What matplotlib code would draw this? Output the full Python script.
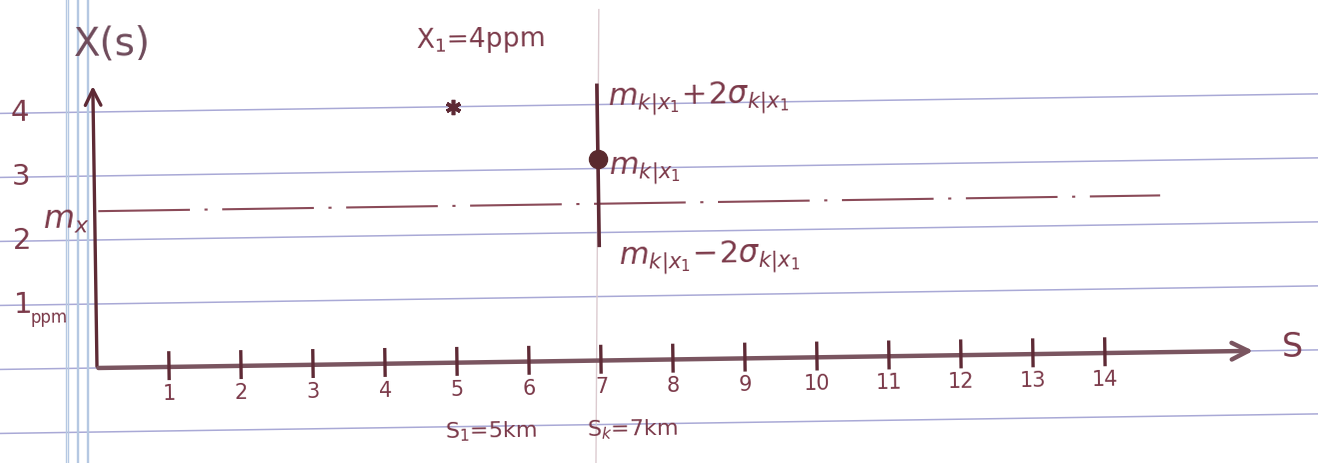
import matplotlib
matplotlib.use("Agg")
import matplotlib.pyplot as plt
from matplotlib.transforms import Affine2D

# values
s_ticks = [1, 2, 3, 4, 5, 6, 7, 8, 9, 10, 11, 12, 13, 14]
y_labels = ["1", "2", "3", "4"]
y_vals = [1, 2, 3, 4]
m_x = 2.45                 # prior mean (dash-dot line)
s_1, x_1 = 5, 4.0          # observation X1 = 4 ppm at s1 = 5 km
s_k = 7                    # prediction location
m_k = 3.15                 # conditional mean
m_k_hi = 4.3               # m + 2 sigma
m_k_lo = 1.8               # m - 2 sigma
rules = [-1, 0, 1, 2, 3, 4]

ink = "#5e2a35"
txt = "#7a3848"
paper_blue = "#a9a9d6"
margin_blue = "#b5c8e2"

fig = plt.figure(figsize=(13.18, 4.63), dpi=100)
ax = fig.add_axes([0, 0, 1, 1])
ax.set_xlim(-97 / 72, (1318 - 97) / 72)
ax.set_ylim((368 - 463) / 64, 368 / 64)
ax.axis("off")

# the photo is tilted a little: rotate the drawing about the origin
px, py = ax.transData.transform((0, 0))
ang = 0.85
tr = ax.transData + Affine2D().rotate_deg_around(px, py, ang)

# ruled paper
for r in rules:
    ax.plot([-3, 19], [r, r], color=paper_blue, lw=1.1, transform=tr, zorder=0)
for mx in [-0.43, -0.40, -0.28, -0.26, -0.14, -0.12]:
    ax.plot([mx, mx], [-3, 7], color=margin_blue, lw=1.0, zorder=0)
ax.plot([6.93, 6.97], [-1.5, 5.6], color="#dccbd0", lw=1, zorder=0)

# axes with arrows
ax.annotate("", xy=(0, 4.45), xytext=(0, -0.02), xycoords=tr, textcoords=tr,
            arrowprops=dict(arrowstyle="->", color=ink, lw=2.4, mutation_scale=28))
ax.annotate("", xy=(16.1, 0), xytext=(-0.02, 0), xycoords=tr, textcoords=tr,
            arrowprops=dict(arrowstyle="->", color="#7a5560", lw=3.2, mutation_scale=30))
for s in s_ticks:
    ax.plot([s, s], [-0.18, 0.22], color=ink, lw=2.4, transform=tr, zorder=3)
    ax.text(s, -0.42, str(s), color=txt, fontsize=15, ha="center", va="center",
            transform=tr, rotation=ang)

# y labels
for lab, v in zip(y_labels, y_vals):
    ax.text(-1.02, v, lab, color=txt, fontsize=21, ha="center", va="center",
            transform=tr, rotation=ang)
ax.text(-0.66, 0.8, "ppm", color=txt, fontsize=12, ha="center", va="center",
        transform=tr, rotation=ang)
ax.text(0.28, 5.05, "X(s)", color="#6e4a5a", fontsize=28, ha="center", va="center",
        transform=tr, rotation=ang)
ax.text(16.6, 0.05, "S", color=txt, fontsize=24, ha="center", va="center",
        transform=tr, rotation=ang)

# prior mean line
ax.plot([0.05, 14.8], [m_x, m_x], color="#8a4a58", lw=1.5,
        linestyle=(0, (44, 7, 1.5, 7)), transform=tr, zorder=2)
ax.text(-0.4, m_x - 0.14, r"$m_x$", color=txt, fontsize=23, ha="center", va="center",
        transform=tr, rotation=ang)

# observation
ax.plot([s_1], [x_1], marker=(6, 2, 0), markersize=11, mew=2.6, color=ink,
        transform=tr, zorder=4)
ax.text(5.39, 5.04, r"X$_1$=4ppm", color=txt, fontsize=19, ha="center", va="center",
        transform=tr, rotation=ang)

# prediction with +-2 sigma bar
ax.plot([s_k, s_k], [m_k_lo, m_k_hi], color=ink, lw=2.6, transform=tr, zorder=3)
ax.plot([s_k], [m_k], marker="o", markersize=13, color="#5a2a2e", transform=tr, zorder=4)
ax.text(7.15, 4.1, r"$m_{k|x_1}\!+\!2\sigma_{k|x_1}$", color=txt, fontsize=22,
        ha="left", va="center", transform=tr, rotation=ang)
ax.text(7.15, 2.97, r"$m_{k|x_1}$", color=txt, fontsize=22,
        ha="left", va="center", transform=tr, rotation=ang)
ax.text(7.26, 1.6, r"$m_{k|x_1}\!-\!2\sigma_{k|x_1}$", color=txt, fontsize=22,
        ha="left", va="center", transform=tr, rotation=ang)

ax.text(5.46, -1.09, r"S$_1$=5km", color=txt, fontsize=16, ha="center", va="center",
        transform=tr, rotation=ang)
ax.text(7.43, -1.09, r"S$_k$=7km", color=txt, fontsize=16, ha="center", va="center",
        transform=tr, rotation=ang)

plt.savefig("out.png", dpi=100)
